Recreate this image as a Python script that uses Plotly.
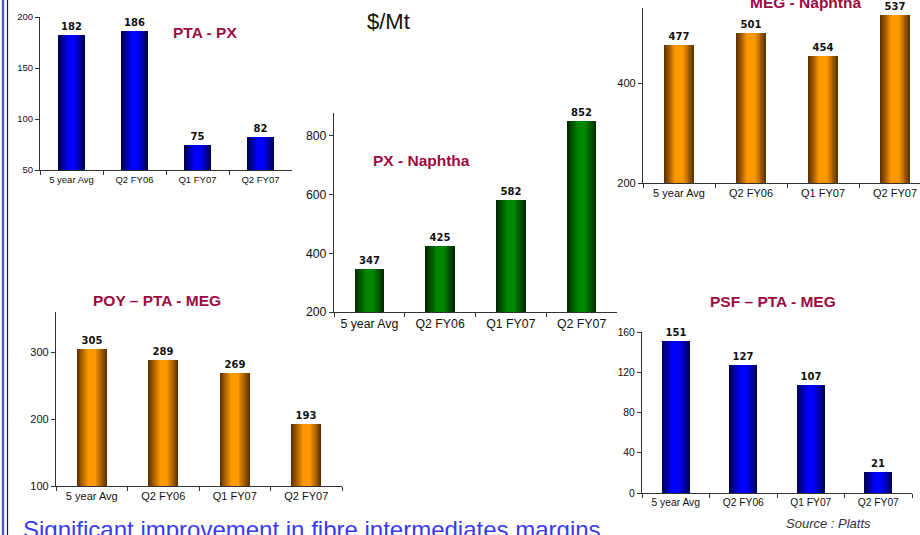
import plotly.graph_objects as go

W, H = 920, 535

categories = ["5 year Avg", "Q2 FY06", "Q1 FY07", "Q2 FY07"]
pta_px = [182, 186, 75, 82]
px_naphtha = [347, 425, 582, 852]
meg_naphtha = [477, 501, 454, 537]
poy_pta_meg = [305, 289, 269, 193]
psf_pta_meg = [151, 127, 107, 21]

# shading (edge colour, centre colour) for the cylinder-style bars
BLUE = ((0, 0, 80), (0, 0, 255))
GREEN = ((0, 40, 0), (0, 135, 0))
ORANGE = ((95, 50, 0), (255, 153, 0))

TITLE_RED = "#9c0b3f"
AXIS = "#333333"
ARIAL = "Arial, Liberation Sans, sans-serif"


def px_x(p):
    return p / W


def px_y(p):
    return 1 - p / H


def mix(c0, c1, t):
    return "rgb(%d,%d,%d)" % tuple(round(a + (b - a) * t) for a, b in zip(c0, c1))


panels = [
    dict(vals=pta_px, col=BLUE, box=(40, 292, 17, 170), yr=[50, 200],
         yt=[50, 100, 150, 200], fs=9.5, title="PTA - PX", tpos=(205, 32)),
    dict(vals=px_naphtha, col=GREEN, box=(334, 617, 113, 312), yr=[200, 878],
         yt=[200, 400, 600, 800], fs=12.3, title="PX - Naphtha", tpos=(421, 160)),
    dict(vals=meg_naphtha, col=ORANGE, box=(643, 920, 8, 183), yr=[200, 550],
         yt=[200, 400], fs=11, title="MEG - Naphtha", tpos=(805, 3), cat_w=72),
    dict(vals=poy_pta_meg, col=ORANGE, box=(56, 342, 312, 486), yr=[100, 360],
         yt=[100, 200, 300], fs=11, title="POY \u2013 PTA - MEG", tpos=(157, 300)),
    dict(vals=psf_pta_meg, col=BLUE, box=(642, 912, 332, 493), yr=[0, 160],
         yt=[0, 40, 80, 120, 160], fs=10.3, title="PSF \u2013 PTA - MEG", tpos=(773, 301)),
]

fig = go.Figure()
layout = {}
annotations = []
BAR_W = 0.42
N_LAYERS = 16

for i, p in enumerate(panels, start=1):
    xa = "x" if i == 1 else "x%d" % i
    ya = "y" if i == 1 else "y%d" % i
    left, right, top, bottom = p["box"]
    if "cat_w" in p:
        xr = [-0.5, -0.5 + (right - left) / p["cat_w"]]
    else:
        xr = [-0.5, 3.5]

    for k in range(N_LAYERS):
        f = 1 - k / N_LAYERS
        t = min(1.0, (1 - f) / 0.75)
        first = k == 0
        fig.add_trace(go.Bar(
            x=categories, y=p["vals"], xaxis=xa, yaxis=ya,
            width=BAR_W * f,
            marker=dict(color=mix(p["col"][0], p["col"][1], t), line=dict(width=0)),
            text=[str(v) for v in p["vals"]] if first else None,
            textposition="outside" if first else "none",
            textfont=dict(family="DejaVu Sans", size=10, color="#111", weight="bold"),
            constraintext="none",
            cliponaxis=False,
            hoverinfo="skip",
            showlegend=False,
        ))

    key_x = "xaxis" if i == 1 else "xaxis%d" % i
    key_y = "yaxis" if i == 1 else "yaxis%d" % i
    layout[key_x] = dict(
        domain=[px_x(left), px_x(right)], anchor=ya, type="category",
        range=xr, showline=True, linecolor=AXIS, linewidth=1.2,
        ticks="outside", tickson="boundaries", ticklen=4, tickcolor=AXIS,
        showgrid=False, zeroline=False, fixedrange=True,
        tickfont=dict(family=ARIAL, size=p["fs"], color="#111"),
    )
    layout[key_y] = dict(
        domain=[px_y(bottom), px_y(top)], anchor=xa,
        range=p["yr"], tickvals=p["yt"], showline=True, linecolor=AXIS,
        linewidth=1.2, ticks="outside", ticklen=4, tickcolor=AXIS,
        showgrid=False, zeroline=False, fixedrange=True,
        tickfont=dict(family=ARIAL, size=p["fs"], color="#111"),
    )
    tx, ty = p["tpos"]
    annotations.append(dict(
        text="<b>%s</b>" % p["title"], xref="paper", yref="paper",
        x=px_x(tx), y=px_y(ty), xanchor="center", yanchor="middle",
        showarrow=False, font=dict(family=ARIAL, size=15.5, color=TITLE_RED),
    ))

annotations += [
    dict(text="$/Mt", xref="paper", yref="paper", x=px_x(388), y=px_y(21),
         xanchor="center", yanchor="middle", showarrow=False,
         font=dict(family=ARIAL, size=22, color="#111")),
    dict(text="<i>Source : Platts</i>", xref="paper", yref="paper",
         x=px_x(828), y=px_y(523), xanchor="center", yanchor="middle",
         showarrow=False, font=dict(family=ARIAL, size=13, color="#333")),
    dict(text="Significant improvement in fibre intermediates margins",
         xref="paper", yref="paper", x=px_x(21), y=px_y(529),
         xanchor="left", yanchor="middle", showarrow=False,
         font=dict(family=ARIAL, size=24, color="#3a3af5")),
]

shapes = [
    dict(type="line", xref="paper", yref="paper", x0=px_x(3), x1=px_x(3),
         y0=0, y1=1, line=dict(color="#5858b8", width=2.5)),
    dict(type="line", xref="paper", yref="paper", x0=px_x(7.5), x1=px_x(7.5),
         y0=0, y1=1, line=dict(color="#10107a", width=1.2)),
]

fig.update_layout(
    width=W, height=H,
    margin=dict(l=0, r=0, t=0, b=0, pad=0, autoexpand=False),
    paper_bgcolor="white", plot_bgcolor="white",
    barmode="overlay", bargap=0, showlegend=False,
    annotations=annotations, shapes=shapes, **layout,
)

fig.write_html("out.html", config={"displayModeBar": False})
